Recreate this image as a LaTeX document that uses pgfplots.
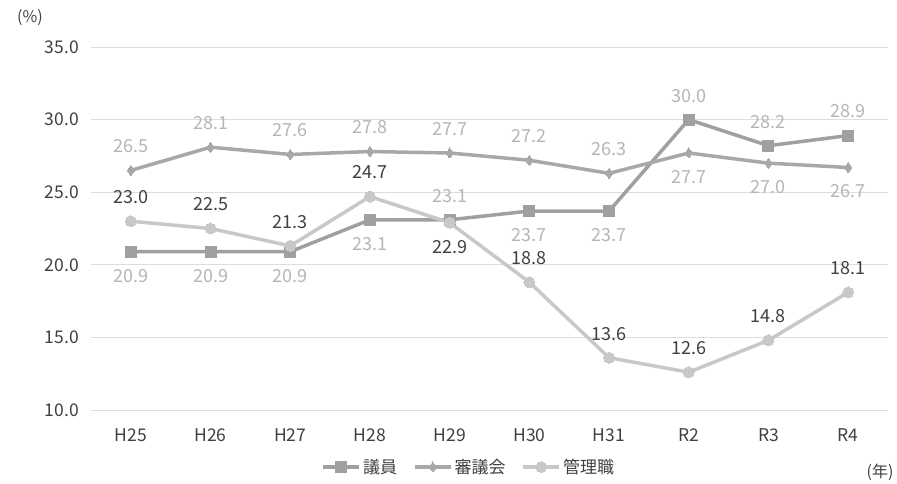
\documentclass[border=0pt]{standalone}
\usepackage{fontspec}
\setmainfont{Noto Sans CJK JP}
\usepackage{pgfplots}
\pgfplotsset{compat=1.18}
\usepackage{pgfplotstable}

\definecolor{giin}{HTML}{A0A0A0}
\definecolor{shingi}{HTML}{A8A8A8}
\definecolor{kanri}{HTML}{C8C8C8}
\definecolor{lbllight}{HTML}{B5B5B5}
\definecolor{txtdark}{HTML}{404040}
\definecolor{gridc}{HTML}{DDDDDD}

% x = year index (H25..R4), y = percent, pos = label above (1) or below (-1)
\pgfplotstableread{
x y pos
0 20.9 -1
1 20.9 -1
2 20.9 -1
3 23.1 -1
4 23.1 1
5 23.7 -1
6 23.7 -1
7 30.0 1
8 28.2 1
9 28.9 1
}\giin
\pgfplotstableread{
x y pos
0 26.5 1
1 28.1 1
2 27.6 1
3 27.8 1
4 27.7 1
5 27.2 1
6 26.3 1
7 27.7 -1
8 27.0 -1
9 26.7 -1
}\shingi
\pgfplotstableread{
x y pos
0 23.0 1
1 22.5 1
2 21.3 1
3 24.7 1
4 22.9 -1
5 18.8 1
6 13.6 1
7 12.6 1
8 14.8 1
9 18.1 1
}\kanri

\begin{document}
\begin{tikzpicture}
\path[use as bounding box] (-91pt,-74pt) rectangle (806pt,410pt);
\begin{axis}[
    at={(0pt,0pt)}, anchor=south west,
    scale only axis, width=797pt, height=363pt,
    xmin=-0.5, xmax=9.5, ymin=10, ymax=35,
    xtick={0,...,9},
    xticklabels={H25,H26,H27,H28,H29,H30,H31,R2,R3,R4},
    ytick={10,15,...,35},
    /pgf/number format/assume math mode=true,
    yticklabel={\pgfmathprintnumber[fixed,fixed zerofill,precision=1]{\tick}},
    ticklabel style={font=\fontsize{17.5}{20}\selectfont, text=txtdark},
    xticklabel style={anchor=center, yshift=-25pt},
    yticklabel style={anchor=east, inner sep=0pt, xshift=-12pt},
    major tick length=0pt,
    axis line style={draw=none},
    ymajorgrids, grid style={gridc, line width=0.9pt},
    nodes near coords={\pgfmathprintnumber[fixed,fixed zerofill,precision=1]{\pgfplotspointmeta}},
    visualization depends on={\thisrow{pos} \as \lp},
    every node near coord/.append style={anchor=center, yshift=\lp*24pt, font=\fontsize{18}{21}\selectfont},
    legend style={at={(0.474,-0.157)}, anchor=center, draw=none, fill=none,
        legend columns=-1, font=\fontsize{17}{20}\selectfont, text=txtdark,
        /tikz/every even column/.append style={column sep=14pt}},
    legend image code/.code={\draw[mark repeat=2,mark phase=2,#1] plot coordinates {(0pt,0pt) (18pt,0pt) (36pt,0pt)};},
    clip=false,
]
\addplot[giin, line width=3.5pt, mark=square*, mark size=5.5pt, mark options={solid, line width=0pt},
    every node near coord/.append style={text=lbllight}] table[x=x,y=y] {\giin};
\addlegendentry{議員}
\addplot[shingi, line width=3.5pt, mark=diamond*, mark size=5pt, mark options={solid, line width=0pt},
    every node near coord/.append style={text=lbllight}] table[x=x,y=y] {\shingi};
\addlegendentry{審議会}
\addplot[kanri, line width=3.5pt, mark=*, mark size=5.5pt, mark options={solid, line width=0pt},
    every node near coord/.append style={text=txtdark}] table[x=x,y=y] {\kanri};
\addlegendentry{管理職}
\end{axis}
\node[text=txtdark, font=\fontsize{16}{19}\selectfont] at (-61pt,392pt) {(\%)};
\node[text=txtdark, font=\fontsize{16}{19}\selectfont] at (789pt,-62pt) {(年)};
\end{tikzpicture}
\end{document}
